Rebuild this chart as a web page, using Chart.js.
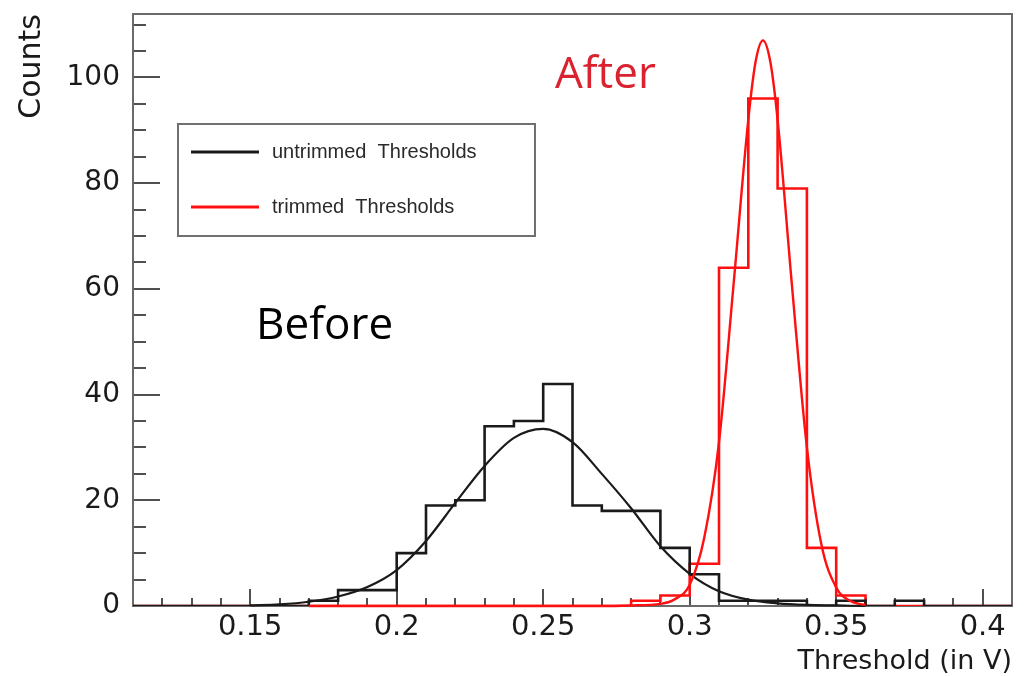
<!DOCTYPE html>
<html>
<head>
<meta charset="utf-8">
<title>Thresholds before and after trimming</title>
<script src="https://cdn.jsdelivr.net/npm/chart.js@4.4.1/dist/chart.umd.min.js"></script>
<style>
  html, body { margin: 0; padding: 0; background: #fff; }
  #chart { display: block; }
</style>
</head>
<body>
<canvas id="chart" width="1034" height="676"></canvas>
<script>
// bin edges in V (bin width 0.01)
const binEdges = [0.11, 0.12, 0.13, 0.14, 0.15, 0.16, 0.17, 0.18, 0.19, 0.20,
                  0.21, 0.22, 0.23, 0.24, 0.25, 0.26, 0.27, 0.28, 0.29, 0.30,
                  0.31, 0.32, 0.33, 0.34, 0.35, 0.36, 0.37, 0.38, 0.39, 0.40, 0.41];

// counts per bin
const untrimmedCounts = [0, 0, 0, 0, 0, 0, 1, 3, 3, 10,
                         19, 20, 34, 35, 42, 19, 18, 18, 11, 6,
                         1, 1, 1, 0, 1, 0, 1, 0, 0, 0];
const trimmedCounts = [0, 0, 0, 0, 0, 0, 0, 0, 0, 0,
                       0, 0, 0, 0, 0, 0, 0, 1, 2, 8,
                       64, 96, 79, 11, 2, 0, 0, 0, 0, 0];

// gaussian fit curves
const untrimmedFitX = [0.15, 0.16, 0.17, 0.18, 0.19, 0.20, 0.21, 0.22, 0.23, 0.24, 0.25,
                       0.26, 0.27, 0.28, 0.29, 0.30, 0.31, 0.32, 0.33, 0.34, 0.35, 0.36];
const untrimmedFitY = [0.1, 0.3, 0.8, 1.8, 3.6, 6.8, 12.3, 19.5, 26.5, 31.8, 33.5,
                       31, 25, 18.5, 11.3, 6.1, 2.8, 1.2, 0.5, 0.2, 0.1, 0];
const trimmedFitX = [0.17, 0.27, 0.28, 0.29, 0.295, 0.30, 0.305, 0.31, 0.315, 0.32, 0.3225,
                     0.325, 0.3275, 0.33, 0.335, 0.34, 0.345, 0.35, 0.355, 0.36];
const trimmedFitY = [0, 0, 0.1, 0.4, 1.3, 4, 13, 31, 61, 92, 103,
                     107, 103, 92, 60, 30, 11.5, 3.5, 0.9, 0.2];

// axes
const xTickValues = [0.15, 0.2, 0.25, 0.3, 0.35, 0.4];
const xTickLabels = ["0.15", "0.2", "0.25", "0.3", "0.35", "0.4"];
const xMinorTicks = [0.11, 0.12, 0.13, 0.14, 0.16, 0.17, 0.18, 0.19, 0.21, 0.22, 0.23, 0.24,
                     0.26, 0.27, 0.28, 0.29, 0.31, 0.32, 0.33, 0.34, 0.36, 0.37, 0.38, 0.39];
const yTickValues = [0, 20, 40, 60, 80, 100];
const yMinorTicks = [5, 10, 15, 25, 30, 35, 45, 50, 55, 65, 70, 75, 85, 90, 95, 105, 110];

const seriesNames = ["untrimmed  Thresholds", "trimmed  Thresholds"];
const seriesColors = ["#1a1a1a", "#ff1010"];

const FONT = "DejaVu Sans";

// step outline: each bin value held from its low edge to the next edge
function histPoints(counts) {
    const pts = counts.map((c, i) => ({ x: binEdges[i], y: c }));
    pts.push({ x: binEdges[binEdges.length - 1], y: counts[counts.length - 1] });
    return pts;
}

function curvePoints(xs, ys) {
    return xs.map((x, i) => ({ x: x, y: ys[i] }));
}

// ROOT style frame with ticks pointing inwards
const rootFrame = {
    id: "rootFrame",
    beforeDatasetsDraw(chart) {
        const { ctx, chartArea: a, scales: { x, y } } = chart;
        ctx.save();
        ctx.strokeStyle = "#505050";
        ctx.lineWidth = 2;
        ctx.beginPath();
        yTickValues.forEach(v => {
            const py = Math.round(y.getPixelForValue(v));
            ctx.moveTo(a.left, py); ctx.lineTo(a.left + 27, py);
        });
        yMinorTicks.forEach(v => {
            const py = Math.round(y.getPixelForValue(v));
            ctx.moveTo(a.left, py); ctx.lineTo(a.left + 13, py);
        });
        xTickValues.forEach(v => {
            const px = Math.round(x.getPixelForValue(v));
            ctx.moveTo(px, a.bottom); ctx.lineTo(px, a.bottom - 17);
        });
        xMinorTicks.forEach(v => {
            const px = Math.round(x.getPixelForValue(v));
            ctx.moveTo(px, a.bottom); ctx.lineTo(px, a.bottom - 8);
        });
        ctx.stroke();
        ctx.strokeStyle = "#6a6a6a";
        ctx.strokeRect(a.left, a.top, a.right - a.left, a.bottom - a.top);
        ctx.restore();
    }
};

// legend box and the Before / After notes
const overlay = {
    id: "overlay",
    afterDraw(chart) {
        const { ctx, scales: { x, y } } = chart;
        ctx.save();
        ctx.fillStyle = "#fff";
        ctx.fillRect(178, 124, 357, 112);
        ctx.strokeStyle = "#707070";
        ctx.lineWidth = 2;
        ctx.strokeRect(178, 124, 357, 112);

        ctx.font = "20px 'Liberation Sans'";
        ctx.textBaseline = "middle";
        ctx.textAlign = "left";
        [152, 207].forEach((ly, i) => {
            ctx.strokeStyle = seriesColors[i];
            ctx.lineWidth = 3;
            ctx.beginPath();
            ctx.moveTo(191, ly); ctx.lineTo(259, ly);
            ctx.stroke();
            ctx.fillStyle = "#2a2a2a";
            ctx.fillText(seriesNames[i], 272, ly);
        });

        ctx.font = "44px 'Open Sans'";
        ctx.textBaseline = "alphabetic";
        ctx.fillStyle = "#000";
        ctx.fillText("Before", x.getPixelForValue(0.152), y.getPixelForValue(50.6));
        ctx.fillStyle = "#d92330";
        ctx.fillText("After", x.getPixelForValue(0.254), y.getPixelForValue(98));
        ctx.restore();
    }
};

const chart = new Chart(document.getElementById("chart"), {
    type: "line",
    data: {
        datasets: [
            {
                label: "trimmed fit",
                data: curvePoints(trimmedFitX, trimmedFitY),
                borderColor: seriesColors[1],
                borderWidth: 2.4,
                cubicInterpolationMode: "monotone",
                pointRadius: 0,
                clip: 4,
                order: 0,
            },
            {
                label: "untrimmed fit",
                data: curvePoints(untrimmedFitX, untrimmedFitY),
                borderColor: seriesColors[0],
                borderWidth: 2.2,
                cubicInterpolationMode: "monotone",
                pointRadius: 0,
                clip: 4,
                order: 1,
            },
            {
                label: seriesNames[0],
                data: histPoints(untrimmedCounts),
                borderColor: seriesColors[0],
                borderWidth: 2.6,
                stepped: true,
                pointRadius: 0,
                order: 2,
            },
            {
                label: seriesNames[1],
                data: histPoints(trimmedCounts),
                borderColor: seriesColors[1],
                borderWidth: 2.6,
                stepped: true,
                pointRadius: 0,
                order: 3,
            },
        ],
    },
    options: {
        responsive: false,
        animation: false,
        devicePixelRatio: 1,
        layout: { padding: { left: 0, right: 22, top: 14, bottom: 0 } },
        plugins: {
            legend: { display: false },
            tooltip: { enabled: false },
        },
        scales: {
            x: {
                type: "linear",
                min: 0.11,
                max: 0.41,
                afterBuildTicks(scale) { scale.ticks = xTickValues.map(v => ({ value: v })); },
                afterFit(scale) {
                    scale.height = 70;
                    scale.paddingLeft = 0; scale.paddingRight = 0;
                },
                grid: { display: false, drawTicks: false },
                border: { display: false },
                ticks: {
                    autoSkip: false,
                    maxRotation: 0,
                    minRotation: 0,
                    padding: 4,
                    color: "#1a1a1a",
                    font: { family: FONT, size: 29, lineHeight: 1.2 },
                    callback: (v, i) => xTickLabels[i],
                },
                title: {
                    display: true,
                    text: "Threshold (in V)",
                    align: "end",
                    color: "#1a1a1a",
                    font: { family: FONT, size: 27, lineHeight: 1 },
                    padding: { top: 0, bottom: 1 },
                },
            },
            y: {
                type: "linear",
                min: 0,
                max: 112,
                afterBuildTicks(scale) { scale.ticks = yTickValues.map(v => ({ value: v })); },
                afterFit(scale) {
                    scale.width = 133;
                    scale.paddingTop = 0; scale.paddingBottom = 0;
                },
                grid: { display: false, drawTicks: false },
                border: { display: false },
                ticks: {
                    padding: 13,
                    color: "#1a1a1a",
                    font: { family: FONT, size: 28 },
                },
                title: {
                    display: true,
                    text: "Counts",
                    align: "end",
                    color: "#1a1a1a",
                    font: { family: FONT, size: 30, lineHeight: 1 },
                    padding: { top: 17, bottom: 0 },
                },
            },
        },
    },
    plugins: [rootFrame, overlay],
});
</script>
</body>
</html>
